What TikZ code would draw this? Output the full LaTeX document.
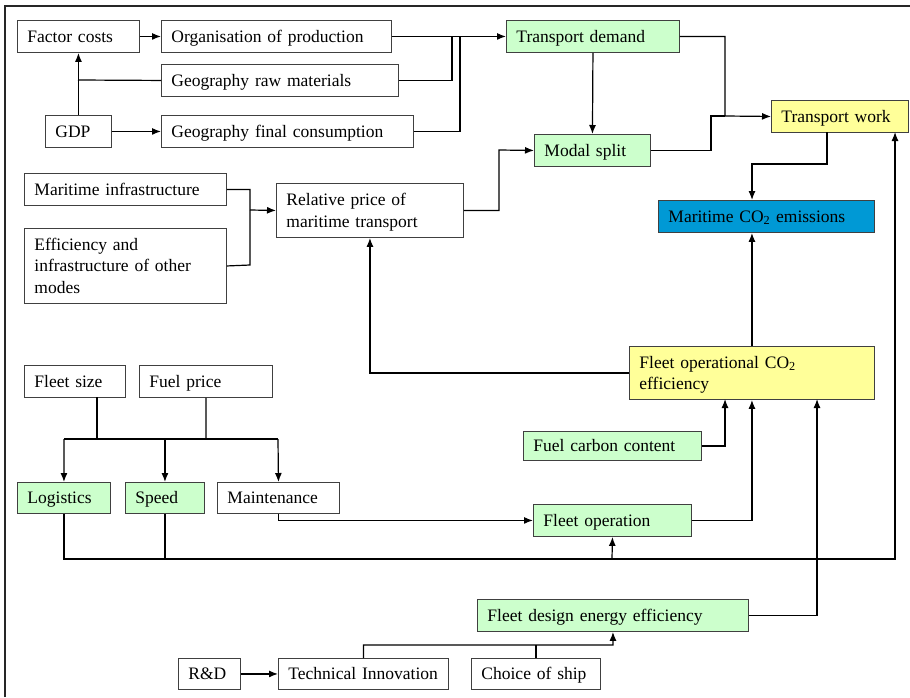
\documentclass[tikz,border=0pt]{standalone}
\usepackage{fontspec}
\setmainfont{Liberation Serif}
\newfontfamily\diagfont{Liberation Serif}
\usetikzlibrary{arrows.meta}
\definecolor{gbox}{HTML}{CCFFCC}
\definecolor{ybox}{HTML}{FFFF99}
\definecolor{bbox}{HTML}{0099D5}
\tikzset{
  box/.style={draw=black!75, line width=0.9pt, anchor=north west, inner xsep=10pt, inner ysep=0pt,
    align=left, text height=11.6pt, text depth=0pt,
    font=\diagfont\fontsize{17.5}{21.5}\selectfont, fill=white},
  twolines/.style={text depth=21.5pt},
  threelines/.style={text depth=43pt},
  conn/.style={line width=1.2pt, black},
  arr/.style={conn, -{Latex[length=9pt,width=7pt]}},
}
\begin{document}
\begin{tikzpicture}[x=1pt,y=-1pt]
\useasboundingbox (0,0) rectangle (910,697);
\draw[line width=1.6pt, black!85] (5,697) -- (5,6) -- (910,6);
% top group
\node[box, text width=102pt, minimum height=32pt] (factor) at (17,20) {Factor costs};
\node[box, text width=210pt, minimum height=32pt] (org) at (161,20) {Organisation of production};
\node[box, text width=217pt, minimum height=32pt] (raw) at (161,64) {Geography raw materials};
\node[box, text width=46pt, minimum height=32pt] (gdp) at (45,115) {GDP};
\node[box, text width=232pt, minimum height=32pt] (fin) at (161,115) {Geography final consumption};
\node[box, fill=gbox, text width=153pt, minimum height=32pt] (tdem) at (506,20) {Transport demand};
\node[box, fill=gbox, text width=96pt, minimum height=32pt] (modal) at (534,134) {Modal split};
\node[box, fill=ybox, text width=117pt, minimum height=32pt] (twork) at (771,100) {Transport work};
\node[box, fill=bbox, text width=196pt, minimum height=32pt] (mco2) at (658,200) {Maritime CO\textsubscript{2} emissions};
% middle left
\node[box, text width=182pt, minimum height=32pt] (minfra) at (24,173) {Maritime infrastructure};
\node[box, threelines, text width=182pt, minimum height=75pt] (eff) at (24,228) {Efficiency and\\infrastructure of other\\modes};
\node[box, twolines, text width=167pt, minimum height=54pt] (relp) at (276,183) {Relative price of\\maritime transport};
% right middle
\node[box, twolines, fill=ybox, text width=225pt, minimum height=53pt] (fleetop) at (629,346) {Fleet operational CO\textsubscript{2}\\efficiency};
\node[box, fill=gbox, text width=158pt, minimum height=29pt] (fuelc) at (523,431) {Fuel carbon content};
\node[box, fill=gbox, text width=138pt, minimum height=32pt] (fop) at (533,504) {Fleet operation};
% lower left
\node[box, text width=81pt, minimum height=32pt] (fsize) at (24,365) {Fleet size};
\node[box, text width=113pt, minimum height=32pt] (fprice) at (139,365) {Fuel price};
\node[box, fill=gbox, text width=73pt, minimum height=31pt] (logi) at (17,482) {Logistics};
\node[box, fill=gbox, text width=59pt, minimum height=31pt] (speed) at (125,482) {Speed};
\node[box, text width=102pt, minimum height=31pt] (maint) at (217,482) {Maintenance};
% bottom
\node[box, fill=gbox, text width=251pt, minimum height=32pt] (fdes) at (477,599) {Fleet design energy efficiency};
\node[box, text width=42pt, minimum height=31pt] (rd) at (178,658) {R\&D};
\node[box, text width=150pt, minimum height=31pt] (tinn) at (278,658) {Technical Innovation};
\node[box, text width=109pt, minimum height=31pt] (choice) at (471,658) {Choice of ship};
% helper coordinates
\coordinate (jraw) at (452,36);
\coordinate (jfin) at (460,36);
\coordinate (jtw) at (725,116);
\coordinate (jmod) at (711,116);
\coordinate (tws) at (827,132);
\coordinate (tw2) at (752,164);
\coordinate (jrel) at (250,210);
\coordinate (jeff) at (250,265);
\coordinate (jrp) at (499,150);
\coordinate (fo1) at (725,399);
\coordinate (fo3) at (817,399);
\coordinate (jfs) at (97,439);
\coordinate (jfp) at (206,439);
\coordinate (jl) at (64,439);
\coordinate (jm) at (278,439);
\coordinate (jb) at (612,559);
\coordinate (jbr) at (895,559);
\coordinate (twb) at (895,132);
\coordinate (jt) at (613,645);
\coordinate (jfsz) at (97,397);
\coordinate (jgr) at (78,80);
% connectors
\draw[arr] (factor.east) -- (org.west);
\draw[arr] (gdp.north) -- (factor.south);
\draw[conn] (raw.west) -- (jgr);
\draw[arr] (gdp.east) -- (fin.west);
\draw[arr] (org.east) -- (tdem.west);
\draw[conn] (raw.east) -| (jraw);
\draw[conn] (fin.east) -| (jfin);
\draw[arr] (tdem.south) -- (modal.north);
\draw[arr] (tdem.east) -| (jtw) -- (twork.west);
\draw[conn] (modal.east) -| (jmod) -- (jtw);
\draw[arr] (tws) |- (tw2) -- (mco2.north -| tw2);
\draw[arr] (fleetop.north) -- (mco2.south -| fleetop.north);
\draw[arr] (fleetop.west) -| (relp.south);
\draw[conn] (minfra.east) -| (jeff) -- (eff.east);
\draw[arr] (jrel) -- (relp.west);
\draw[arr] (relp.east) -| (jrp) -- (modal.west);
\draw[arr] (fuelc.east) -| (fo1);
\draw[arr] (fop.east) -| (fleetop.south);
\draw[arr] (fdes.east) -| (fo3);
\draw[arr] (maint.south) |- (fop.west);
\draw[conn] (jfsz) -- (jfs);
\draw[conn] (fprice.south) -- (jfp);
\draw[conn] (jl) -- (jm);
\draw[arr] (jl) -- (logi.north);
\draw[arr] (speed.north |- jl) -- (speed.north);
\draw[arr] (jm) -- (maint.north);
\draw[arr] (logi.south) |- (jbr) -- (twb);
\draw[conn] (speed.south) -- (speed.south |- jb);
\draw[arr] (jb) -- (fop.south);
\draw[arr] (rd.east) -- (tinn.west);
\draw[arr] (tinn.north) |- (jt) -- (fdes.south);
\draw[conn] (choice.north) -- (choice.north |- jt);
\end{tikzpicture}
\end{document}
